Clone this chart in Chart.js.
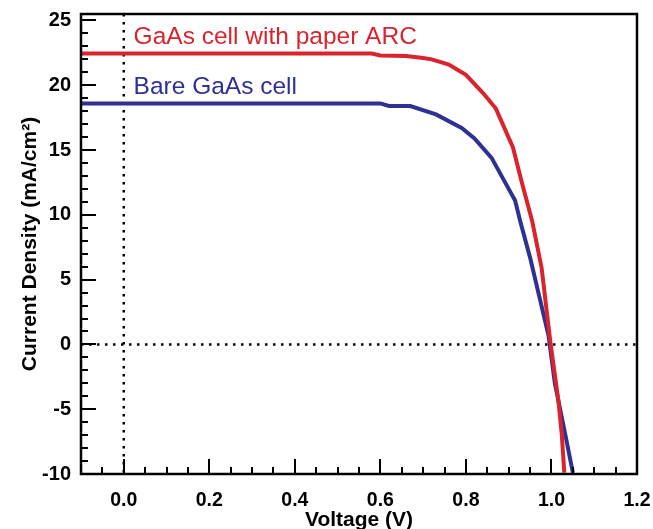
<!DOCTYPE html>
<html>
<head>
<meta charset="utf-8">
<script src="https://cdn.jsdelivr.net/npm/chart.js@4.4.0/dist/chart.umd.min.js"></script>
<style>
html,body{margin:0;padding:0;background:#fff;}
#wrap{width:653px;height:529px;position:relative;}
</style>
</head>
<body>
<div id="wrap"><canvas id="c" width="653" height="529"></canvas></div>
<script>
// Data
const arcVoltage = [-0.1, 0.0, 0.2, 0.4, 0.58, 0.6, 0.66, 0.7, 0.72, 0.76, 0.8, 0.84, 0.87, 0.91, 0.93, 0.955, 0.977, 0.997, 1.016, 1.024, 1.03];
const arcCurrent = [22.45, 22.45, 22.45, 22.45, 22.45, 22.3, 22.25, 22.1, 22.0, 21.6, 20.8, 19.4, 18.2, 15.2, 12.6, 9.5, 5.9, 0.3, -4.3, -6.9, -9.9];
const bareVoltage = [-0.1, 0.0, 0.2, 0.4, 0.6, 0.62, 0.67, 0.73, 0.79, 0.82, 0.86, 0.89, 0.915, 0.927, 0.95, 0.993, 1.008, 1.032, 1.05];
const bareCurrent = [18.6, 18.6, 18.6, 18.6, 18.6, 18.4, 18.4, 17.75, 16.7, 15.9, 14.4, 12.6, 11.1, 9.5, 6.7, 0.7, -3.0, -6.9, -9.9];
const xTicks = [0.0, 0.2, 0.4, 0.6, 0.8, 1.0, 1.2];
const yTicks = [-10, -5, 0, 5, 10, 15, 20, 25];
const seriesNames = ["GaAs cell with paper ARC", "Bare GaAs cell"];
const labelPos = [[0.023, 23.7], [0.023, 19.85]];

const RED = '#d9232d';
const BLUE = '#2e3192';
const FONT = '"Liberation Sans", Arial, Helvetica, sans-serif';

function pts(xs, ys) { return xs.map((x, i) => ({x: x, y: ys[i]})); }

const frame = {
  id: 'frame',
  beforeDatasetsDraw(chart) {
    const ctx = chart.ctx, a = chart.chartArea;
    const xs = chart.scales.x, ys = chart.scales.y;
    ctx.save();
    ctx.strokeStyle = '#000';
    ctx.lineWidth = 2.5;
    ctx.setLineDash([2.5, 5.5]);
    const x0 = xs.getPixelForValue(0), y0 = ys.getPixelForValue(0);
    ctx.beginPath(); ctx.moveTo(x0, a.top); ctx.lineTo(x0, a.bottom); ctx.stroke();
    ctx.beginPath(); ctx.moveTo(a.left, y0); ctx.lineTo(a.right, y0); ctx.stroke();
    ctx.restore();
  },
  afterDatasetsDraw(chart) {
    const ctx = chart.ctx, a = chart.chartArea;
    const xs = chart.scales.x, ys = chart.scales.y;
    ctx.save();
    ctx.strokeStyle = '#000';
    ctx.lineWidth = 2;
    ctx.beginPath();
    for (let i = -2; i <= 24; i++) {
      const v = i * 0.05;
      const px = Math.round(xs.getPixelForValue(v));
      const major = (i % 4 === 0) && i >= 0;
      ctx.moveTo(px, a.bottom); ctx.lineTo(px, a.bottom - (major ? 15 : 7));
    }
    for (let v = -10; v <= 25; v++) {
      const py = Math.round(ys.getPixelForValue(v));
      const major = (v % 5 === 0);
      ctx.moveTo(a.left, py); ctx.lineTo(a.left + (major ? 15 : 7), py);
    }
    ctx.stroke();
    ctx.lineWidth = 2.5;
    ctx.strokeRect(a.left, a.top, a.right - a.left, a.bottom - a.top);
    ctx.font = '24.5px ' + FONT;
    ctx.textBaseline = 'middle';
    ctx.textAlign = 'left';
    const cols = [RED, BLUE];
    seriesNames.forEach((n, i) => {
      ctx.fillStyle = cols[i];
      ctx.fillText(n, xs.getPixelForValue(labelPos[i][0]), ys.getPixelForValue(labelPos[i][1]));
    });
    ctx.restore();
  }
};

new Chart(document.getElementById('c'), {
  type: 'scatter',
  data: {
    datasets: [
      {label: seriesNames[0], data: pts(arcVoltage, arcCurrent), showLine: true, borderColor: RED, borderWidth: 4, pointRadius: 0, tension: 0},
      {label: seriesNames[1], data: pts(bareVoltage, bareCurrent), showLine: true, borderColor: BLUE, borderWidth: 4, pointRadius: 0, tension: 0}
    ]
  },
  options: {
    responsive: false,
    animation: false,
    layout: {padding: {top: 14, right: 16, left: 0, bottom: 0}},
    plugins: {legend: {display: false}, tooltip: {enabled: false}},
    scales: {
      x: {
        type: 'linear', min: -0.1, max: 1.2,
        afterBuildTicks(s) { s.ticks = xTicks.map(v => ({value: v})); },
        afterFit(s) { s.height = 55; s.paddingLeft = 0; s.paddingRight = 0; },
        grid: {display: false, drawTicks: false},
        border: {display: false},
        ticks: {color: '#000', font: {family: FONT, size: 19.5, weight: 'bold'}, padding: 15, maxRotation: 0,
                callback: v => Number(v).toFixed(1)},
        title: {display: true, text: 'Voltage (V)', color: '#000', font: {family: FONT, size: 21, weight: 'bold'}, padding: {top: 0, bottom: -4}}
      },
      y: {
        type: 'linear', min: -10, max: 25.5,
        afterBuildTicks(s) { s.ticks = yTicks.map(v => ({value: v})); },
        afterFit(s) { s.width = 81; s.paddingTop = 0; s.paddingBottom = 0; },
        grid: {display: false, drawTicks: false},
        border: {display: false},
        ticks: {color: '#000', font: {family: FONT, size: 20, weight: 'bold'}, padding: 10,
                callback: v => String(v)},
        title: {display: true, text: 'Current Density (mA/cm²)', color: '#000', font: {family: FONT, size: 21, weight: 'bold'}, padding: {top: 18, bottom: 0}}
      }
    }
  },
  plugins: [frame]
});
</script>
</body>
</html>
